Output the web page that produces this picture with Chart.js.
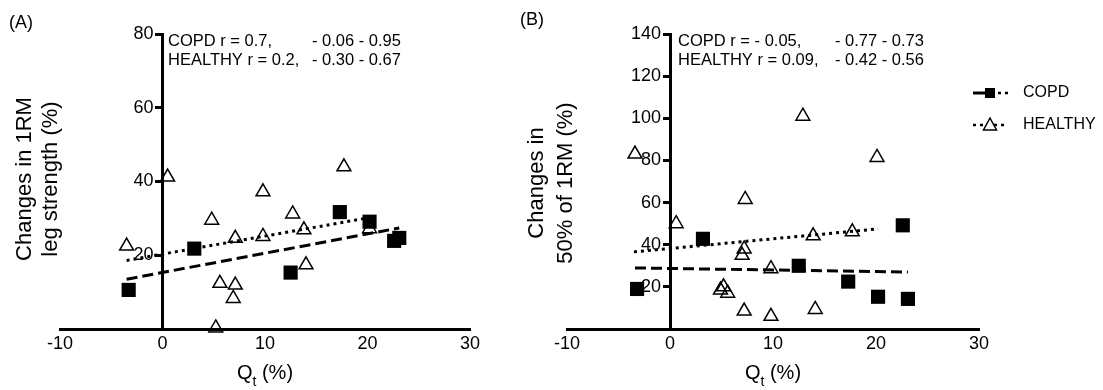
<!DOCTYPE html>
<html lang="en">
<head>
<meta charset="UTF-8">
<title>Qt vs changes in 1RM</title>
<script src="https://cdn.jsdelivr.net/npm/chart.js"></script>
<style>
  body { margin: 0; background: #fff; }
  #wrap { position: relative; width: 1103px; height: 390px; }
  .panel { position: absolute; top: 0; height: 390px; }
  #panelA { left: 0; width: 500px; }
  #panelB { left: 500px; width: 603px; }
</style>
</head>
<body>
<div id="wrap">
  <div class="panel" id="panelA"><canvas id="chartA"></canvas></div>
  <div class="panel" id="panelB"><canvas id="chartB"></canvas></div>
</div>
<script>
// shared x axis (Qt %)
const qtTicks = [-10, 0, 10, 20, 30];

// panel A - changes in 1RM leg strength (%)
const legTicks = [20, 40, 60, 80];
const legCopdX = [-3.3, 3.1, 12.5, 17.3, 20.2, 22.6, 23.1];
const legCopdY = [10.6, 21.8, 15.3, 31.7, 29.1, 23.9, 24.7];
const legHealthyX = [-3.5, 0.5, 4.8, 5.2, 5.6, 7.1, 7.1, 6.9, 9.8, 9.8, 12.7, 13.8, 14.0, 17.7, 20.2];
const legHealthyY = [22.5, 41.2, 29.5, 0.3, 12.4, 24.6, 11.9, 8.3, 37.2, 25.1, 31.2, 26.9, 17.4, 44.0, 27.2];
const legCopdFitX = [-3.5, 23.1];
const legCopdFitY = [13.5, 27.4];
const legHealthyFitX = [-3.5, 20.2];
const legHealthyFitY = [18.6, 30.2];

// panel B - changes in 50% of 1RM (%)
const halfTicks = [20, 40, 60, 80, 100, 120, 140];
const halfCopdX = [-3.2, 3.2, 12.5, 17.3, 20.2, 23.1, 22.6];
const halfCopdY = [19, 42.8, 30, 22.5, 15.3, 14.3, 49.2];
const halfHealthyX = [-3.4, 0.6, 7.3, 7.2, 7.0, 4.9, 5.2, 5.6, 7.2, 9.8, 9.8, 12.9, 13.9, 14.1, 17.7, 20.1];
const halfHealthyY = [83, 50, 61.5, 38, 35, 18.5, 20, 17, 8.5, 28.6, 6, 101, 44.2, 9.3, 46.1, 81.4];
const halfCopdFitX = [-3.4, 23.1];
const halfCopdFitY = [29, 27];
const halfHealthyFitX = [-3.5, 20.2];
const halfHealthyFitY = [36.6, 47.5];

// texts
const seriesNames = ['COPD', 'HEALTHY'];
const legNotes = [['COPD r = 0.7,', '- 0.06 - 0.95'], ['HEALTHY r = 0.2,', '- 0.30 - 0.67']];
const halfNotes = [['COPD r = - 0.05,', '- 0.77 - 0.73'], ['HEALTHY r = 0.09,', '- 0.42 - 0.56']];

const FONT = '"Liberation Sans", Arial, sans-serif';
Chart.defaults.font.family = FONT;
Chart.defaults.color = '#000';

function pts(xs, ys) {
    return xs.map((x, i) => ({ x: x, y: ys[i] }));
}

// titles, notes, panel letters, y tick labels and legend
const decor = {
    id: 'decor',
    beforeDatasetsDraw(chart) {
        // y tick labels sit left of the axis drawn at x = 0
        const ctx = chart.ctx, ys = chart.scales.y;
        const x0 = chart.scales.x.getPixelForValue(0);
        ctx.save();
        ctx.fillStyle = '#000';
        ctx.font = '18px ' + FONT;
        ctx.textAlign = 'right';
        ctx.textBaseline = 'middle';
        ys.ticks.forEach(t => ctx.fillText(String(t.value), x0 - 9, ys.getPixelForValue(t.value)));
        ctx.restore();
    },
    afterDraw(chart, args, o) {
        const ctx = chart.ctx;
        ctx.save();
        ctx.fillStyle = '#000';
        ctx.textBaseline = 'middle';
        ctx.textAlign = 'left';

        ctx.font = '18px ' + FONT;
        ctx.fillText(o.label, o.labelX, o.labelY);

        ctx.font = '16.5px ' + FONT;
        o.notes.forEach((row, i) => {
            ctx.fillText(row[0], o.noteX, 41 + i * 19);
            ctx.fillText(row[1], o.noteX2, 41 + i * 19);
        });

        // y title, rotated
        ctx.font = '22px ' + FONT;
        ctx.textAlign = 'center';
        o.yTitle.forEach((t, i) => {
            ctx.save();
            ctx.translate(o.yTitleX[i], o.yTitleY);
            ctx.rotate(-Math.PI / 2);
            ctx.fillText(t, 0, 0);
            ctx.restore();
        });

        // x title: Q with subscript t
        const cx = chart.scales.x.getPixelForValue(10);
        ctx.textAlign = 'left';
        ctx.textBaseline = 'alphabetic';
        ctx.font = '20px ' + FONT;
        const wQ = ctx.measureText('Q').width;
        const wP = ctx.measureText(' (%)').width;
        ctx.font = '14px ' + FONT;
        const wt = ctx.measureText('t').width;
        let x0 = cx - (wQ + wt + wP) / 2;
        ctx.font = '20px ' + FONT;
        ctx.fillText('Q', x0, 379);
        ctx.font = '14px ' + FONT;
        ctx.fillText('t', x0 + wQ, 386);
        ctx.font = '20px ' + FONT;
        ctx.fillText(' (%)', x0 + wQ + wt, 379);

        if (o.legend) {
            const lx = o.legend.x, rows = o.legend.rows;
            ctx.strokeStyle = '#000';
            // COPD
            ctx.lineWidth = 3;
            ctx.beginPath();
            ctx.moveTo(lx - 17, rows[0]);
            ctx.lineTo(lx - 5, rows[0]);
            ctx.stroke();
            ctx.fillRect(lx - 5, rows[0] - 5, 10, 10);
            ctx.lineWidth = 2.5;
            ctx.setLineDash([3, 4]);
            ctx.beginPath();
            ctx.moveTo(lx + 8, rows[0]);
            ctx.lineTo(lx + 18, rows[0]);
            ctx.stroke();
            // HEALTHY
            ctx.beginPath();
            ctx.moveTo(lx - 17, rows[1]);
            ctx.lineTo(lx + 18, rows[1]);
            ctx.stroke();
            ctx.setLineDash([]);
            ctx.lineWidth = 1.5;
            ctx.fillStyle = '#fff';
            ctx.beginPath();
            ctx.moveTo(lx, rows[1] - 7);
            ctx.lineTo(lx + 6.5, rows[1] + 5);
            ctx.lineTo(lx - 6.5, rows[1] + 5);
            ctx.closePath();
            ctx.fill();
            ctx.stroke();
            ctx.fillStyle = '#000';
            ctx.font = '16px ' + FONT;
            ctx.textBaseline = 'middle';
            seriesNames.forEach((n, i) => ctx.fillText(n, lx + 33, rows[i]));
        }
        ctx.restore();
    }
};

function makePanel(id, p) {
    return new Chart(document.getElementById(id), {
        type: 'scatter',
        data: {
            datasets: [{
                label: seriesNames[0],
                data: pts(p.copdX, p.copdY),
                pointStyle: 'rect',
                pointRadius: 10,
                pointBackgroundColor: '#000',
                pointBorderColor: '#000',
                pointBorderWidth: 0,
                clip: false
            }, {
                label: seriesNames[1],
                data: pts(p.healthyX, p.healthyY),
                pointStyle: 'triangle',
                pointRadius: 8,
                pointBackgroundColor: 'rgba(255,255,255,0)',
                pointBorderColor: '#000',
                pointBorderWidth: 1.5,
                clip: false
            }, {
                label: 'COPD fit',
                data: pts(p.copdFitX, p.copdFitY),
                showLine: true,
                borderColor: '#000',
                borderWidth: 3,
                borderDash: [11, 5],
                pointRadius: 0,
                clip: false
            }, {
                label: 'HEALTHY fit',
                data: pts(p.healthyFitX, p.healthyFitY),
                showLine: true,
                borderColor: '#000',
                borderWidth: 3,
                borderDash: [3, 4],
                pointRadius: 0,
                clip: false
            }]
        },
        options: {
            responsive: true,
            maintainAspectRatio: false,
            animation: false,
            layout: { padding: p.padding },
            plugins: {
                legend: { display: false },
                tooltip: { enabled: false },
                decor: p.decor
            },
            scales: {
                x: {
                    type: 'linear',
                    min: -10,
                    max: 30,
                    afterBuildTicks: s => { s.ticks = qtTicks.map(v => ({ value: v })); },
                    afterFit: s => { s.height = 61; },
                    grid: { display: false, drawTicks: false },
                    border: { display: true, width: 3, color: '#000' },
                    ticks: { font: { size: 18 }, padding: 4, color: '#000' }
                },
                y: {
                    type: 'linear',
                    min: 0,
                    max: p.yTicks[p.yTicks.length - 1],
                    position: { x: 0 },
                    afterBuildTicks: s => { s.ticks = p.yTicks.map(v => ({ value: v })); },
                    grid: { drawOnChartArea: false, tickLength: 6, tickWidth: 3, tickColor: '#000' },
                    border: { display: true, width: 3, color: '#000' },
                    ticks: { display: false }
                }
            }
        },
        plugins: [decor]
    });
}

makePanel('chartA', {
    copdX: legCopdX, copdY: legCopdY,
    healthyX: legHealthyX, healthyY: legHealthyY,
    copdFitX: legCopdFitX, copdFitY: legCopdFitY,
    healthyFitX: legHealthyFitX, healthyFitY: legHealthyFitY,
    yTicks: legTicks,
    padding: { left: 60, right: 30, top: 34, bottom: 0 },
    decor: {
        label: '(A)', labelX: 9, labelY: 23,
        notes: legNotes, noteX: 168, noteX2: 312,
        yTitle: ['Changes in 1RM', 'leg strength (%)'], yTitleX: [25, 51], yTitleY: 179
    }
});

makePanel('chartB', {
    copdX: halfCopdX, copdY: halfCopdY,
    healthyX: halfHealthyX, healthyY: halfHealthyY,
    copdFitX: halfCopdFitX, copdFitY: halfCopdFitY,
    healthyFitX: halfHealthyFitX, healthyFitY: halfHealthyFitY,
    yTicks: halfTicks,
    padding: { left: 67, right: 124, top: 34, bottom: 0 },
    decor: {
        label: '(B)', labelX: 20, labelY: 20,
        notes: halfNotes, noteX: 178, noteX2: 335,
        yTitle: ['Changes in', '50% of 1RM (%)'], yTitleX: [37, 66], yTitleY: 183,
        legend: { x: 490, rows: [93, 125] }
    }
});
</script>
</body>
</html>
